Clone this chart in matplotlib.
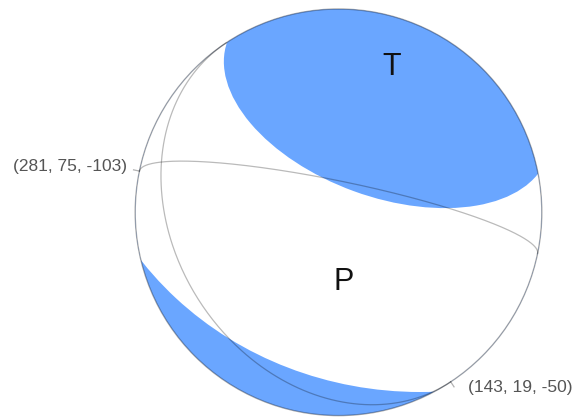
import numpy as np
import matplotlib
matplotlib.use('Agg')  # headless
import matplotlib.pyplot as plt
from matplotlib.patches import Circle, Ellipse

# nodal planes: (strike, dip, rake)
planes = [(281, 75, -103), (143, 19, -50)]
plane_labels = ["(%d, %d, %d)" % p for p in planes]
axis_labels = ["T", "P"]

# ball outline, canvas units (pixels, y pointing down)
ball_center = np.array([338.5, 212.3])
ball_radius = 203.3

# great circles seen in projection: tilt of long axis (deg), short half axis, visible side
plane_tilt = [11.7, 56.5]
plane_minor = [31.0, 165.0]
plane_side = [-1, 1]

# tension lobe and the edge of the lower compressional cap
t_lobe = dict(center=(387, 100), width=340, height=194, angle=20)
p_cap = dict(center=(420, 72), width=690, height=640, angle=0)

blue = "#6aa6ff"

fig = plt.figure(figsize=(5.77, 4.19), dpi=100)
ax = fig.add_axes([0, 0, 1, 1])
ax.set_xlim(0, 577)
ax.set_ylim(419, 0)
ax.set_aspect('equal')
ax.axis('off')

ball = Circle(ball_center, ball_radius, facecolor=blue, edgecolor='none', zorder=1)
ax.add_patch(ball)

cap = Ellipse(p_cap['center'], p_cap['width'], p_cap['height'], angle=p_cap['angle'],
              facecolor='white', edgecolor='none', zorder=2)
ax.add_patch(cap)
cap.set_clip_path(ball)

lobe = Ellipse(t_lobe['center'], t_lobe['width'], t_lobe['height'], angle=t_lobe['angle'],
               facecolor=blue, edgecolor='none', zorder=3)
ax.add_patch(lobe)
lobe.set_clip_path(ball)

# visible half of each nodal plane
t = np.linspace(0, np.pi, 300)
ends = []
for tilt, b, side in zip(plane_tilt, plane_minor, plane_side):
    th = np.radians(tilt)
    e1 = np.array([np.cos(th), np.sin(th)])
    e2 = np.array([-np.sin(th), np.cos(th)]) * side
    pts = ball_center[:, None] + np.outer(e1, ball_radius * np.cos(t)) + np.outer(e2, b * np.sin(t))
    ax.plot(pts[0], pts[1], color='black', alpha=0.27, lw=0.9, zorder=4)
    ends.append((pts[:, -1], pts[:, 0]))

# small leader ticks where the labels sit
for p in (ends[0][0], ends[1][1]):
    d = (p - ball_center) / ball_radius
    q = p + d * 6
    ax.plot([p[0], q[0]], [p[1], q[1]], color='black', alpha=0.3, lw=0.9, zorder=4)

ax.add_patch(Circle(ball_center, ball_radius, facecolor='none', edgecolor='black',
                    alpha=0.33, lw=1.0, zorder=5))

font = 'Liberation Sans'
ax.text(127, 166, plane_labels[0], ha='right', va='center', fontsize=12.5,
        color='#555555', family=font)
ax.text(468, 387, plane_labels[1], ha='left', va='center', fontsize=12.5,
        color='#555555', family=font)
ax.text(392, 67, axis_labels[0], ha='center', va='center', fontsize=22,
        color='#111111', family=font)
ax.text(344, 282, axis_labels[1], ha='center', va='center', fontsize=22,
        color='#111111', family=font)

fig.savefig("out.png", dpi=100)
